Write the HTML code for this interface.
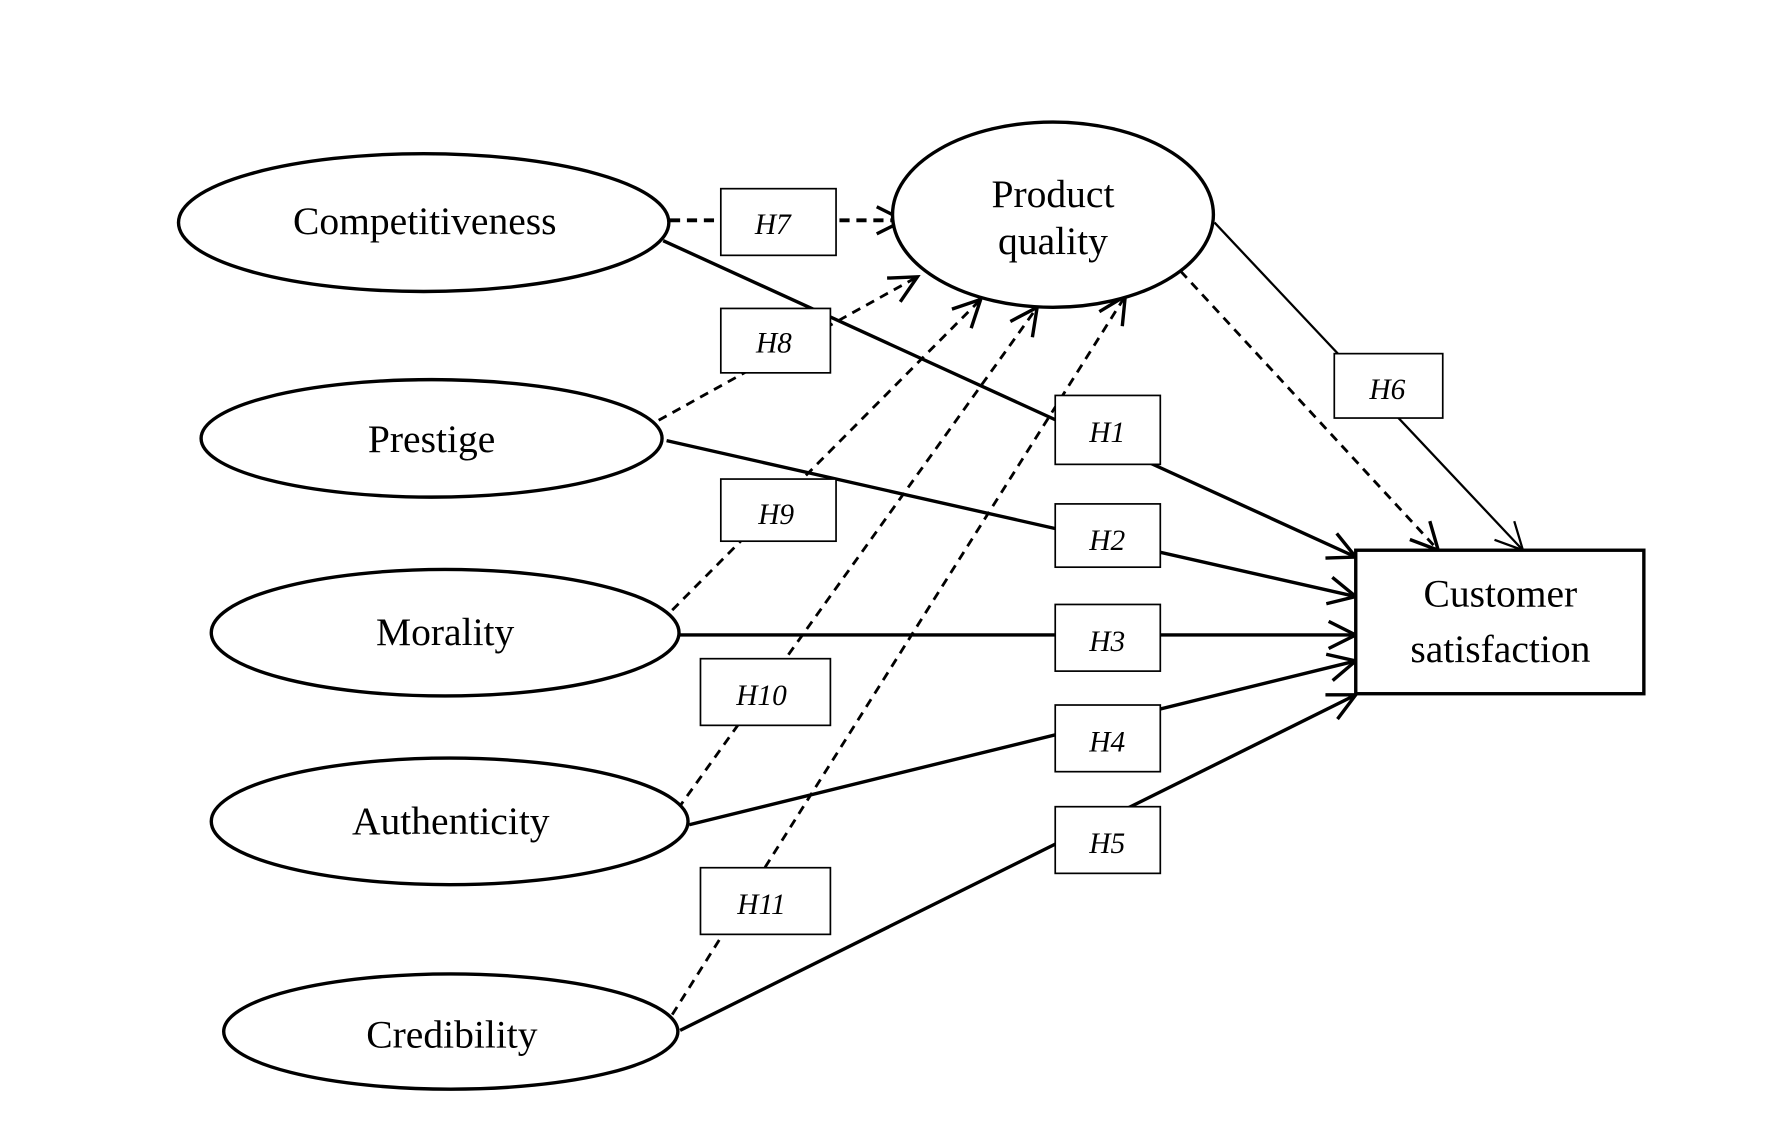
<!DOCTYPE html>
<html><head><meta charset="utf-8"><style>html,body{margin:0;padding:0;background:#fff}svg{display:block}</style></head>
<body>
<svg width="1767" height="1140" viewBox="0 0 1564 1009" preserveAspectRatio="none" xmlns="http://www.w3.org/2000/svg">
<defs>
<marker id="a" viewBox="0 0 30 30" refX="27" refY="15" markerWidth="30" markerHeight="30" markerUnits="userSpaceOnUse" orient="auto">
<path d="M3,3 L27,15 L3,27" fill="none" stroke="#000" stroke-width="3"/>
</marker>
<marker id="b" viewBox="0 0 30 30" refX="27" refY="15" markerWidth="30" markerHeight="30" markerUnits="userSpaceOnUse" orient="auto">
<path d="M3,3 L27,15 L3,27" fill="none" stroke="#000" stroke-width="2"/>
</marker>
</defs>
<g fill="none" stroke="#000">
<line x1="593" y1="195" x2="800" y2="195" stroke-width="3.5" stroke-dasharray="9,6" marker-end="url(#a)"/>
<line x1="587" y1="213" x2="1200" y2="493" stroke-width="3" marker-end="url(#a)"/>
<line x1="583" y1="372" x2="812" y2="245" stroke-width="2.5" stroke-dasharray="8,6" marker-end="url(#a)"/>
<line x1="590" y1="390" x2="1200" y2="528" stroke-width="3" marker-end="url(#a)"/>
<line x1="595" y1="540" x2="868" y2="265" stroke-width="2.5" stroke-dasharray="8,6" marker-end="url(#a)"/>
<line x1="601" y1="562" x2="1200" y2="562" stroke-width="3" marker-end="url(#a)"/>
<line x1="600" y1="716" x2="918" y2="272" stroke-width="2.5" stroke-dasharray="8,6" marker-end="url(#a)"/>
<line x1="610" y1="730" x2="1200" y2="585" stroke-width="3" marker-end="url(#a)"/>
<line x1="595" y1="898" x2="996" y2="262" stroke-width="2.5" stroke-dasharray="8,6" marker-end="url(#a)"/>
<line x1="602" y1="912" x2="1200" y2="615" stroke-width="3" marker-end="url(#a)"/>
<line x1="1075" y1="197" x2="1348" y2="487" stroke-width="2" marker-end="url(#b)"/>
<line x1="1045" y1="240" x2="1273" y2="487" stroke-width="2.5" stroke-dasharray="8,6" marker-end="url(#a)"/>
</g>
<g fill="#fff" stroke="#000" stroke-width="3">
<ellipse cx="375" cy="197" rx="217" ry="61"/>
<ellipse cx="382" cy="388" rx="204" ry="52"/>
<ellipse cx="394" cy="560" rx="207" ry="56"/>
<ellipse cx="398" cy="727" rx="211" ry="56"/>
<ellipse cx="399" cy="913" rx="201" ry="51"/>
<ellipse cx="932" cy="190" rx="142" ry="82"/>
<rect x="1200" y="487" width="255" height="127"/>
</g>
<g fill="#fff" stroke="#000" stroke-width="1.5">
<rect x="638" y="167" width="102" height="59"/>
<rect x="638" y="273" width="97" height="57"/>
<rect x="934" y="350" width="93" height="61"/>
<rect x="1181" y="313" width="96" height="57"/>
<rect x="638" y="424" width="102" height="55"/>
<rect x="934" y="446" width="93" height="56"/>
<rect x="934" y="535" width="93" height="59"/>
<rect x="620" y="583" width="115" height="59"/>
<rect x="934" y="624" width="93" height="59"/>
<rect x="934" y="714" width="93" height="59"/>
<rect x="620" y="768" width="115" height="59"/>
</g>
<g font-family="Liberation Serif, serif" font-size="35" text-anchor="middle" fill="#000">
<text x="376" y="207">Competitiveness</text>
<text x="382" y="400">Prestige</text>
<text x="394" y="571">Morality</text>
<text x="399" y="738">Authenticity</text>
<text x="400" y="927">Credibility</text>
<text x="932" y="183">Product</text>
<text x="932" y="225">quality</text>
<text x="1328" y="537">Customer</text>
<text x="1328" y="586">satisfaction</text>
</g>
<g font-family="Liberation Serif, serif" font-size="26" font-style="italic" text-anchor="middle" fill="#000">
<text x="684" y="207">H7</text>
<text x="685" y="312">H8</text>
<text x="980" y="391">H1</text>
<text x="1228" y="353">H6</text>
<text x="687" y="464">H9</text>
<text x="980" y="487">H2</text>
<text x="980" y="576">H3</text>
<text x="674" y="624">H10</text>
<text x="980" y="665">H4</text>
<text x="980" y="755">H5</text>
<text x="674" y="809">H11</text>
</g>
</svg>
</body></html>
